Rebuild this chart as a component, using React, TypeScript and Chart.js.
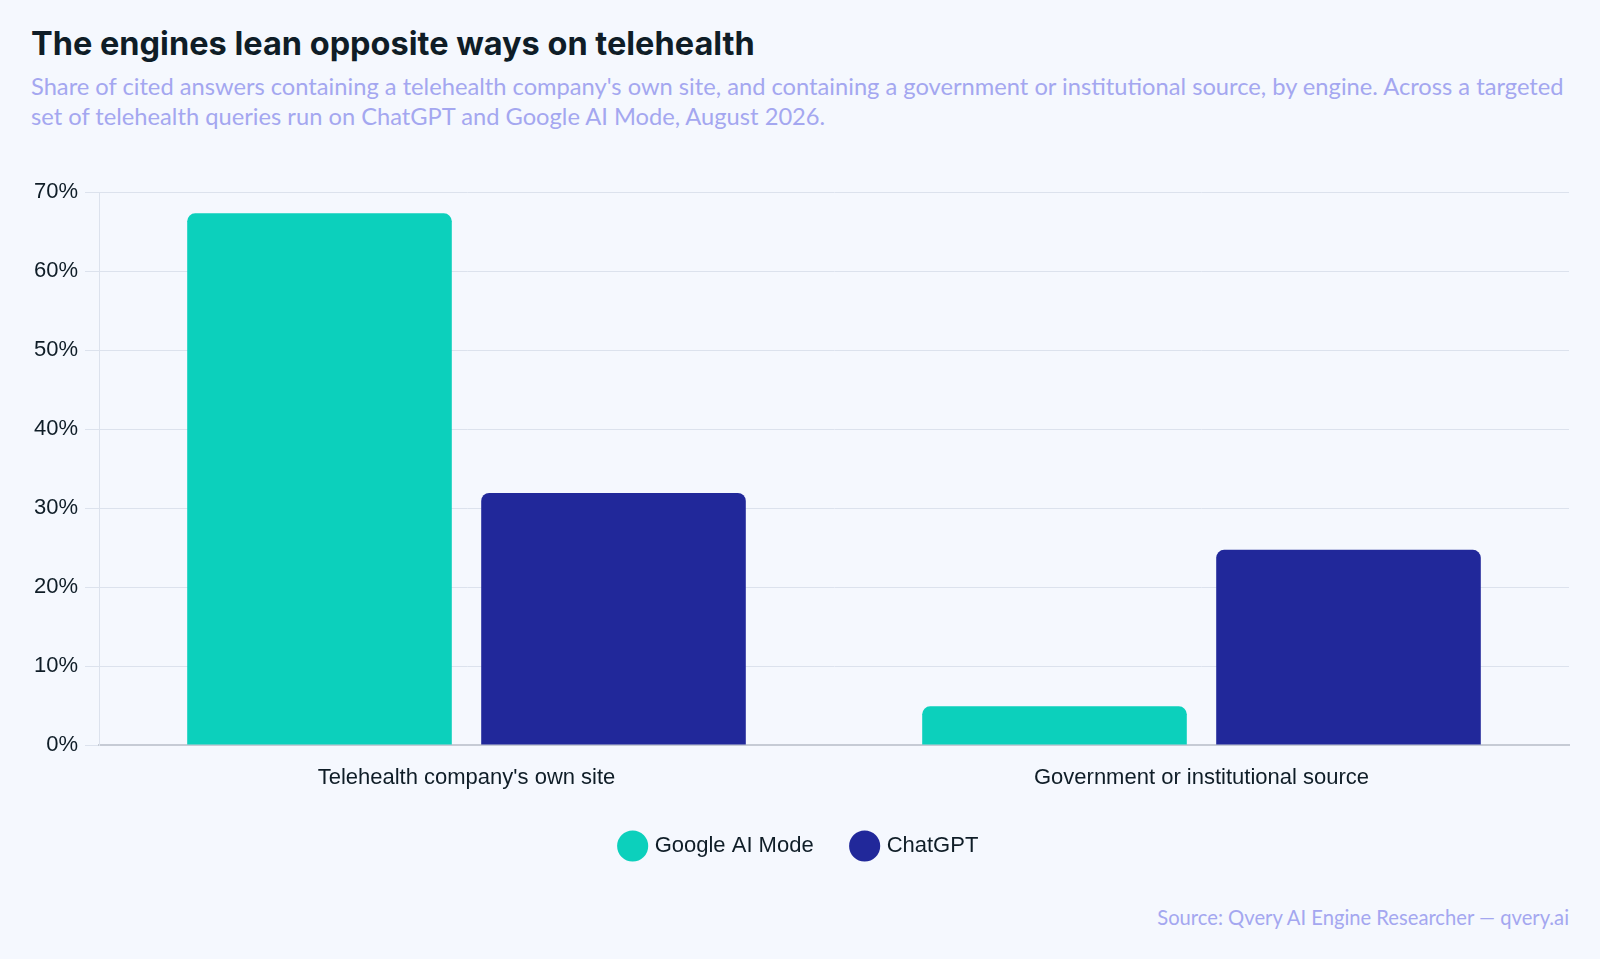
import { useEffect, useRef } from "react";
import { Chart, registerables } from "chart.js";

Chart.register(...registerables);

// ─── Data ─────────────────────────────────────────────────────────
const CATEGORIES = ["Telehealth company's own site", "Government or institutional source"];
const GOOGLE_AI_MODE = [67.3, 4.9];
const CHATGPT = [31.9, 24.7];
const Y_TICKS = [0, 10, 20, 30, 40, 50, 60, 70];

const TEAL = "#0cd0bc";
const NAVY = "#21289a";
const INK = "#0f1d27";
const LAVENDER = "#a4a7f0";
const GRID = "#dce2ed";
const BG = "#f5f8fe";
const SANS = "'Liberation Sans', Arial, sans-serif";

export default function App() {
  const canvasRef = useRef<HTMLCanvasElement>(null);

  useEffect(() => {
    if (!canvasRef.current) return;
    const chart = new Chart(canvasRef.current, {
      type: "bar",
      data: {
        labels: CATEGORIES,
        datasets: [
          { label: "Google AI Mode", data: GOOGLE_AI_MODE, backgroundColor: TEAL, borderRadius: 8 },
          { label: "ChatGPT", data: CHATGPT, backgroundColor: NAVY, borderRadius: 8 },
        ],
      },
      options: {
        animation: false,
        responsive: true,
        maintainAspectRatio: false,
        layout: { padding: { top: 32, right: 31, left: 31, bottom: 0 } },
        plugins: {
          tooltip: { enabled: false },
          legend: {
            position: "bottom",
            labels: {
              usePointStyle: true,
              pointStyle: "circle",
              font: { family: SANS, size: 22 },
              color: INK,
              padding: 40,
            },
          },
        },
        scales: {
          x: {
            grid: { display: false, drawTicks: false },
            border: { display: true, color: "#c6cbd5", width: 2 },
            ticks: { font: { family: SANS, size: 22 }, color: INK, padding: 20 },
            afterFit: (scale) => {
              scale.height = 50;
            },
          },
          y: {
            min: 0,
            max: Y_TICKS[Y_TICKS.length - 1],
            grid: { color: GRID, tickLength: 14 },
            border: { color: GRID },
            afterBuildTicks: (scale) => {
              scale.ticks = Y_TICKS.map((v) => ({ value: v }));
            },
            ticks: {
              font: { family: SANS, size: 22 },
              color: INK,
              padding: 7,
              callback: (v) => `${v}%`,
            },
            afterFit: (scale) => {
              scale.width = 68;
            },
          },
        },
      },
    });
    return () => chart.destroy();
  }, []);

  return (
    <div style={{ position: "fixed", inset: 0, background: BG, overflow: "hidden" }}>
      <div
        style={{
          position: "absolute",
          left: 31,
          top: 25,
          font: "700 32.5px Inter, sans-serif",
          lineHeight: "38px",
          color: INK,
          whiteSpace: "nowrap",
        }}
      >
        The engines lean opposite ways on telehealth
      </div>
      <div
        style={{
          position: "absolute",
          left: 31,
          top: 71,
          font: "400 23.7px Lato, sans-serif",
          lineHeight: "30px",
          color: LAVENDER,
          whiteSpace: "nowrap",
        }}
      >
        Share of cited answers containing a telehealth company's own site, and containing a government or
        institutional source, by engine. Across a targeted
        <br />
        set of telehealth queries run on ChatGPT and Google AI Mode, August 2026.
      </div>
      <div style={{ position: "absolute", left: 0, top: 160, width: 1600, height: 707 }}>
        <canvas ref={canvasRef} />
      </div>
      <div
        style={{
          position: "absolute",
          right: 31,
          top: 904,
          font: "400 20.2px Lato, sans-serif",
          lineHeight: "26px",
          color: LAVENDER,
          whiteSpace: "nowrap",
        }}
      >
        Source: Qvery AI Engine Researcher — qvery.ai
      </div>
    </div>
  );
}
